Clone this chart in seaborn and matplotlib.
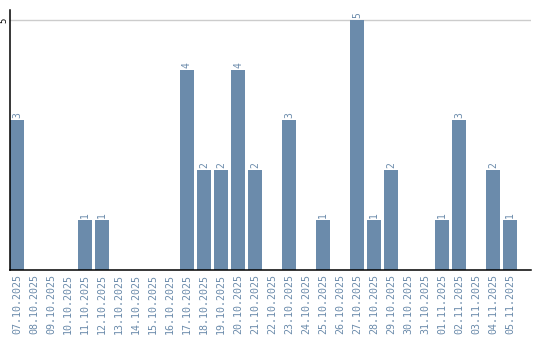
import matplotlib
matplotlib.use("Agg")
import matplotlib.pyplot as plt
import seaborn as sns
import pandas as pd
import numpy as np

dates = ["07.10.2025", "08.10.2025", "09.10.2025", "10.10.2025", "11.10.2025",
         "12.10.2025", "13.10.2025", "14.10.2025", "15.10.2025", "16.10.2025",
         "17.10.2025", "18.10.2025", "19.10.2025", "20.10.2025", "21.10.2025",
         "22.10.2025", "23.10.2025", "24.10.2025", "25.10.2025", "26.10.2025",
         "27.10.2025", "28.10.2025", "29.10.2025", "30.10.2025", "31.10.2025",
         "01.11.2025", "02.11.2025", "03.11.2025", "04.11.2025", "05.11.2025"]
counts = [3, 0, 0, 0, 1, 1, 0, 0, 0, 0, 4, 2, 2, 4, 2, 0, 3, 0, 1, 0,
          5, 1, 2, 0, 0, 1, 3, 0, 2, 1]
y_ticks = [5]

sns.set_theme(style="white")
plt.rcParams['font.family'] = ['DejaVu Sans Mono', 'DejaVu Sans']

W, H = 540, 340
fig = plt.figure(figsize=(W/100, H/100), dpi=100)
ax = fig.add_axes([10/W, (H-270)/H, (531-10)/W, 260/H])

bar_color = "#6b8bab"
label_color = "#6b8bab"
df = pd.DataFrame({"date": dates, "count": counts})
sns.barplot(data=df, x="date", y="count", color=bar_color, saturation=1,
            width=14/17, ax=ax, zorder=3)

# left-align bars within their slots
for p in ax.patches:
    p.set_x(p.get_x() + p.get_width()/2 - 0.5)
    p.set_edgecolor("none")

for i, v in enumerate(counts):
    if v > 0:
        ax.text(i - 0.5 + (14/17)/2, v + 0.04, str(v), rotation=90,
                ha="center", va="bottom", fontsize=7, color=label_color)

ax.set_xlim(-0.5, -0.5 + (531-10)/17)
ax.set_ylim(0, 5.2)
ax.set_xticks([i - 0.5 + (14/17)/2 for i in range(len(dates))])
ax.set_xticklabels(dates, rotation=90, fontsize=7.2, color=label_color)
ax.set_yticks(y_ticks)
ax.set_yticklabels([str(t) for t in y_ticks], rotation=90, fontsize=6.5,
                   color="black", va="center")
ax.tick_params(axis="y", length=0, pad=1)
ax.tick_params(axis="x", length=0, pad=3)
for t in y_ticks:
    ax.axhline(t, color="#cccccc", lw=1, zorder=1)
ax.set_xlabel("")
ax.set_ylabel("")
for s in ["top", "right"]:
    ax.spines[s].set_visible(False)
for s in ["left", "bottom"]:
    ax.spines[s].set_color("black")
    ax.spines[s].set_linewidth(1.1)
    ax.spines[s].set_zorder(5)

fig.savefig("out.png", dpi=100)
